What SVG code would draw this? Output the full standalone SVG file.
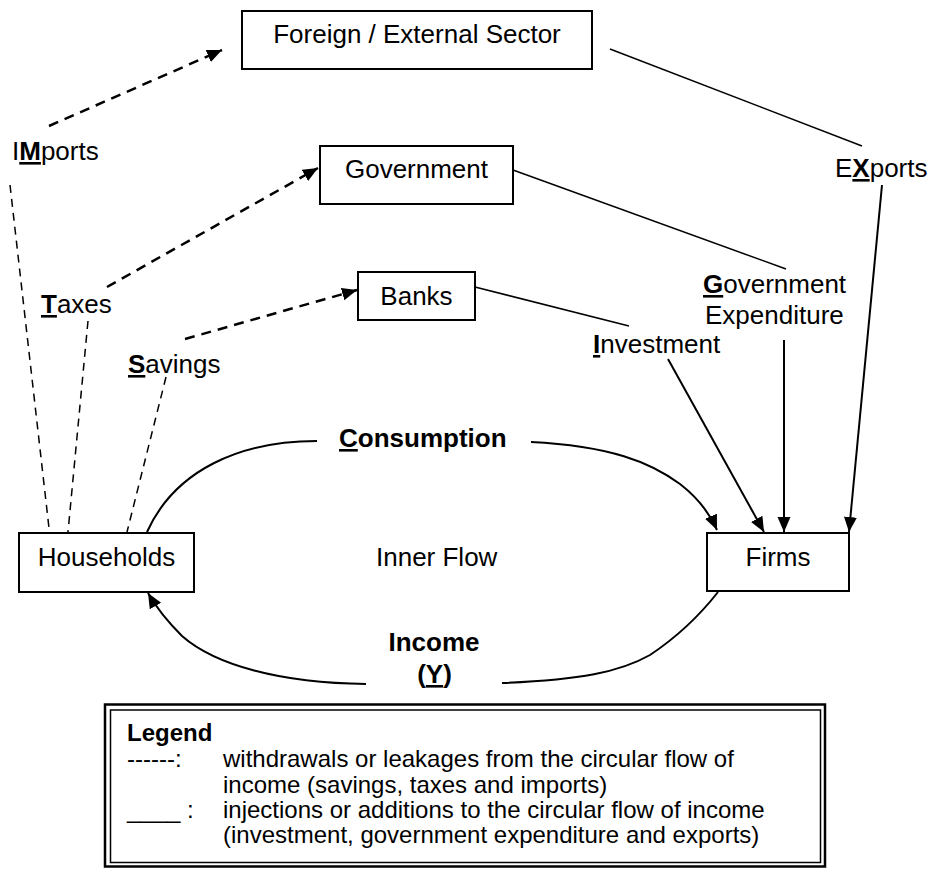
<svg xmlns="http://www.w3.org/2000/svg" width="928" height="869" viewBox="0 0 928 869">
<style>
  .box { fill: #fff; stroke: #000; stroke-width: 2; }
  .t { font-family: "Liberation Sans", Arial, sans-serif; font-size: 26px; fill: #000; }
  .lg { font-family: "Liberation Sans", Arial, sans-serif; font-size: 24px; fill: #000; }
  .b { font-weight: bold; }
  .u { text-decoration: underline; }
  .leak { fill: none; stroke: #000; stroke-width: 2.5; stroke-dasharray: 10 7; }
  .leakv { fill: none; stroke: #000; stroke-width: 1.5; stroke-dasharray: 8 6; }
  .inj { fill: none; stroke: #000; stroke-width: 1.5; }
  .arr { fill: none; stroke: #000; stroke-width: 2; }
</style>
<defs>
  <marker id="ah" markerUnits="userSpaceOnUse" markerWidth="16" markerHeight="14" refX="15" refY="6.5" orient="auto">
    <path d="M0,0 L15,6.5 L0,13 Z" fill="#000"/>
  </marker>
</defs>

<g id="connectors">
  <!-- leakages -->
  <line class="leak" x1="49" y1="126" x2="222" y2="50" marker-end="url(#ah)"/>
  <line class="leakv" x1="10" y1="185" x2="49" y2="528"/>
  <line class="leak" x1="107" y1="287" x2="318" y2="168" marker-end="url(#ah)"/>
  <line class="leakv" x1="88" y1="321" x2="68" y2="532"/>
  <line class="leak" x1="185" y1="339" x2="357" y2="290" marker-end="url(#ah)"/>
  <line class="leakv" x1="166" y1="377" x2="127" y2="532"/>
  <!-- injections -->
  <line class="inj" x1="610" y1="49" x2="862" y2="146"/>
  <line class="arr" x1="882" y1="185" x2="849" y2="532" marker-end="url(#ah)"/>
  <line class="inj" x1="513" y1="170" x2="786" y2="269"/>
  <line class="arr" x1="784" y1="340" x2="784" y2="532" marker-end="url(#ah)"/>
  <line class="inj" x1="475" y1="287" x2="629" y2="326"/>
  <line class="arr" x1="668" y1="359" x2="764" y2="532" marker-end="url(#ah)"/>
  <!-- inner flow -->
  <path class="arr" d="M147,532 C175,470 240,441 317,441"/>
  <path class="arr" d="M531,442 C610,446 650,462 680,484 C698,498 710,514 717,530" marker-end="url(#ah)"/>
  <path class="arr" d="M366,684 C280,683 215,665 182,636 C168,622 156,607 148,593" marker-end="url(#ah)"/>
  <path class="arr" d="M502,683 C580,680 620,672 650,655 C680,635 700,615 718,592"/>
</g>

<g id="foreign">
  <rect class="box" x="242" y="11" width="350" height="58"/>
  <text class="t" x="417" y="43" text-anchor="middle">Foreign / External Sector</text>
</g>
<g id="government">
  <rect class="box" x="320" y="146" width="193" height="58"/>
  <text class="t" x="416.5" y="178" text-anchor="middle">Government</text>
</g>
<g id="banks">
  <rect class="box" x="358" y="272" width="117" height="48"/>
  <text class="t" x="416.5" y="305" text-anchor="middle">Banks</text>
</g>
<g id="households">
  <rect class="box" x="19" y="533" width="175" height="59"/>
  <text class="t" x="106.5" y="566" text-anchor="middle">Households</text>
</g>
<g id="firms">
  <rect class="box" x="707" y="533" width="142" height="58"/>
  <text class="t" x="778" y="566" text-anchor="middle">Firms</text>
</g>

<g id="labels">
  <text class="t" x="12" y="160">I<tspan class="b u">M</tspan>ports</text>
  <text class="t" x="835" y="177">E<tspan class="b u">X</tspan>ports</text>
  <text class="t" x="41" y="313"><tspan class="b u">T</tspan>axes</text>
  <text class="t" x="128" y="373"><tspan class="b u">S</tspan>avings</text>
  <text class="t b" x="339" y="447"><tspan class="u">C</tspan>onsumption</text>
  <text class="t" x="703" y="293"><tspan class="b u">G</tspan>overnment</text>
  <text class="t" x="705" y="324">Expenditure</text>
  <text class="t" x="593" y="353"><tspan class="b u">I</tspan>nvestment</text>
  <text class="t" x="376" y="566">Inner Flow</text>
  <text class="t b" x="434" y="651" text-anchor="middle">Income</text>
  <text class="t b" x="434.5" y="683" text-anchor="middle">(<tspan class="u">Y</tspan>)</text>
</g>

<g id="legend">
  <rect x="105" y="704.5" width="720" height="162" fill="none" stroke="#000" stroke-width="2.5"/>
  <rect x="110.5" y="710" width="710" height="152.5" fill="none" stroke="#000" stroke-width="1.5"/>
  <text class="lg b" x="127" y="741">Legend</text>
  <text class="lg" x="127" y="767">------:</text>
  <text class="lg" x="223" y="767">withdrawals or leakages from the circular flow of</text>
  <text class="lg" x="223" y="793">income (savings, taxes and imports)</text>
  <text class="lg" x="127" y="818">____ :</text>
  <text class="lg" x="223" y="818">injections or additions to the circular flow of income</text>
  <text class="lg" x="223" y="843">(investment, government expenditure and exports)</text>
</g>
</svg>
